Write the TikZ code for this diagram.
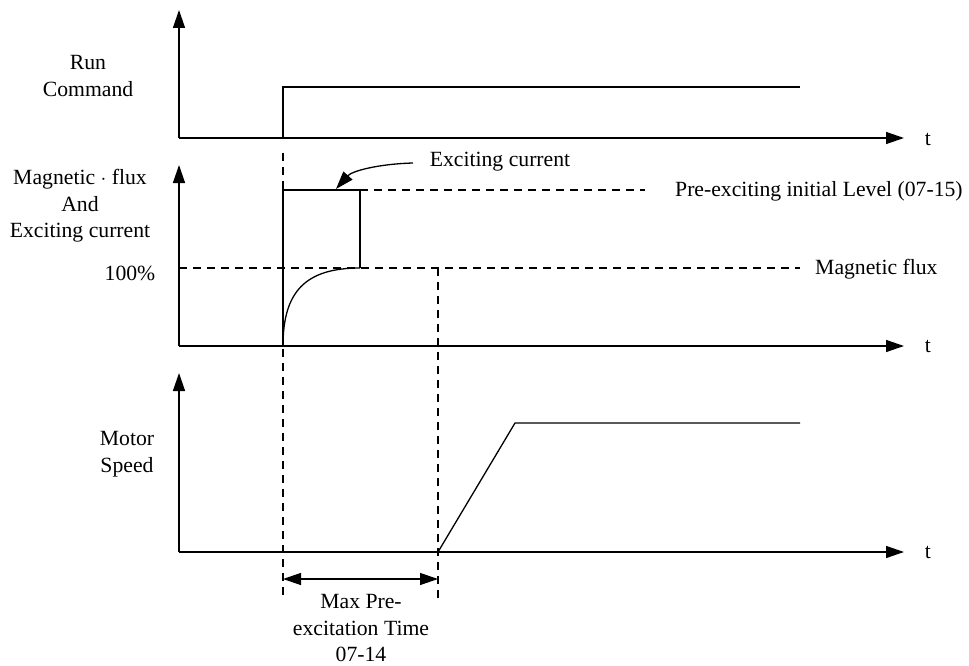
\documentclass[tikz,border=0pt]{standalone}
\usepackage{fontspec}
\setmainfont{Liberation Serif}
\usetikzlibrary{arrows.meta}
\begin{document}
\begin{tikzpicture}[x=1pt,y=-1pt,
  tipa/.tip={Triangle[length=18pt,width=12pt]},
  axis/.style={line width=1.4pt,-tipa},
  sig/.style={line width=1.3pt},
  dsh/.style={line width=1.2pt,dash pattern=on 8pt off 6pt},
  lbl/.style={font=\fontsize{21.7}{26.5}\selectfont,align=center,inner sep=0pt},
  dim/.style={line width=1.3pt,tipa-tipa}]
\useasboundingbox (0,0) rectangle (969,666);
% axes
\coordinate (O1) at (179,138); \coordinate (Y1) at (179,10);  \coordinate (X1) at (904,138);
\coordinate (O2) at (179,346); \coordinate (Y2) at (179,165); \coordinate (X2) at (904,346);
\coordinate (O3) at (179,552); \coordinate (Y3) at (179,373); \coordinate (X3) at (904,552);
\draw[axis] (O1) -- (Y1); \draw[axis] (O1) -- (X1);
\draw[axis] (O2) -- (Y2); \draw[axis] (O2) -- (X2);
\draw[axis] (O3) -- (Y3); \draw[axis] (O3) -- (X3);
\node[lbl] (t1) at (928,139) {t};
\node[lbl] (t2) at (928,346) {t};
\node[lbl] (t3) at (928,552) {t};
% labels
\node[lbl] (run) at (88,76) {Run\\Command};
\node[lbl] (mag) at (80,206) {Magnetic $\cdot$ flux\\And\\Exciting current};
\node[lbl] (pct) at (130,273) {100\%};
\node[lbl] (mot) at (127,454) {Motor\\Speed};
% run command
\coordinate (r0) at (283,138); \coordinate (r1) at (283,87); \coordinate (r2) at (800,87);
\draw[sig] (r0) -- (r1) -- (r2);
% exciting current
\coordinate (e0) at (283,346); \coordinate (e1) at (283,190); \coordinate (e2) at (360,190); \coordinate (e3) at (360,268);
\draw[sig] (e0) -- (e1) -- (e2) -- (e3);
\draw[sig] (e0) .. controls (283,292) and (305,268) .. (e3);
% dashed lines
\coordinate (d1) at (645,190);
\coordinate (f0) at (179,268); \coordinate (f1) at (800,268);
\coordinate (v0) at (283,153); \coordinate (v1) at (283,598);
\coordinate (w0) at (438,268); \coordinate (w1) at (438,598);
\draw[dsh] (e2) -- (d1);
\draw[dsh] (f0) -- (f1);
\draw[dsh] (v0) -- (v1);
\draw[dsh] (w0) -- (w1);
\node[lbl,anchor=west] (pre) at (675,191) {Pre-exciting initial Level (07-15)};
\node[lbl,anchor=west] (mf) at (815,269) {Magnetic flux};
% exciting current label and arrow
\node[lbl] (exc) at (500,162) {Exciting current};
\coordinate (s0) at (413,163);
\coordinate (tip) at (336,189);
\draw[line width=1.3pt,-tipa] (s0) .. controls (378,164) and (352,171) .. (tip);
% motor speed
\coordinate (m0) at (438,552); \coordinate (m1) at (515,423); \coordinate (m2) at (800,423);
\draw[sig] (m0) -- (m1) -- (m2);
% dimension
\coordinate (a0) at (283,579); \coordinate (a1) at (438,579);
\draw[dim] (a0) -- (a1);
\node[lbl] (mpt) at (361,628) {Max Pre-\\excitation Time\\07-14};
\end{tikzpicture}
\end{document}
